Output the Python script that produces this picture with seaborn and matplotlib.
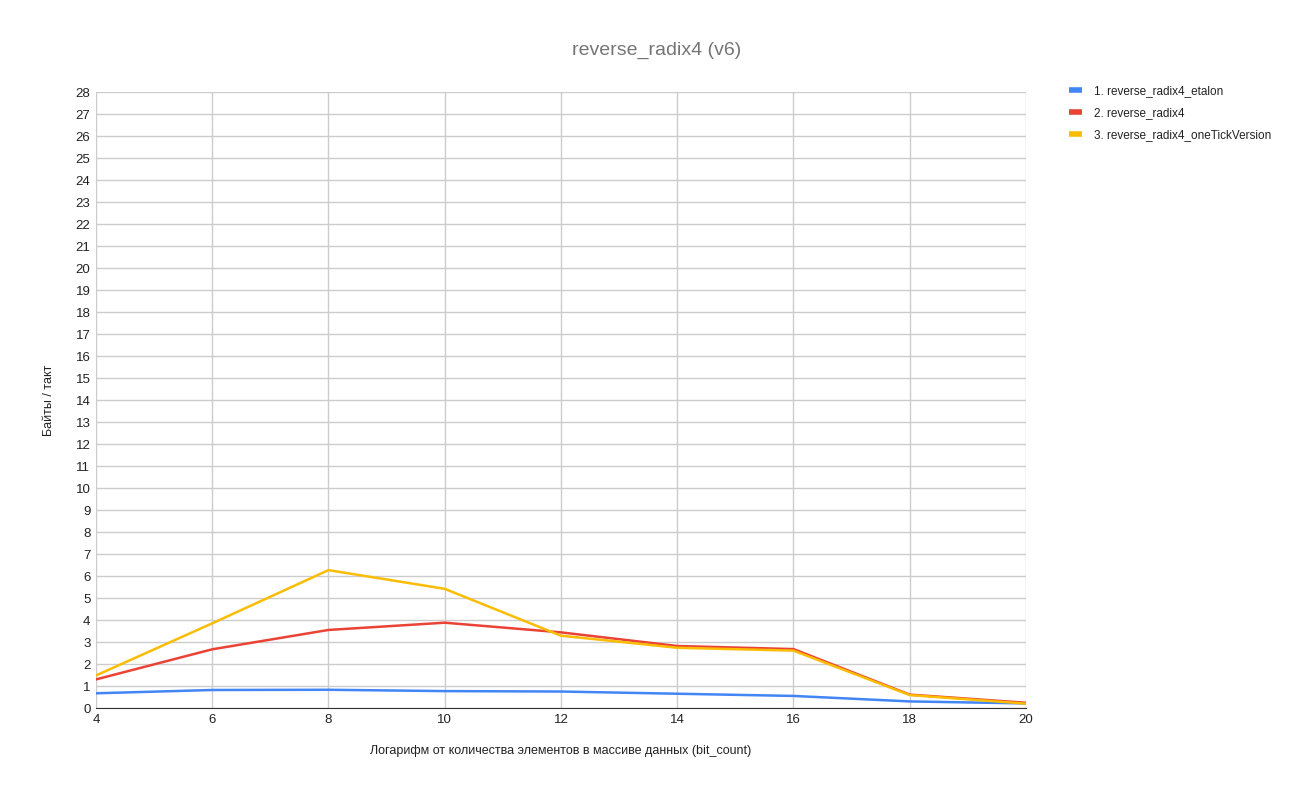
import numpy as np
import pandas as pd
import matplotlib
matplotlib.use("Agg")
import matplotlib.pyplot as plt
import seaborn as sns

bit_count = [4, 6, 8, 10, 12, 14, 16, 18, 20]
etalon = [0.67, 0.82, 0.83, 0.77, 0.75, 0.65, 0.55, 0.30, 0.21]
radix4 = [1.30, 2.67, 3.55, 3.88, 3.44, 2.82, 2.68, 0.61, 0.24]
one_tick = [1.48, 3.85, 6.27, 5.42, 3.29, 2.74, 2.61, 0.59, 0.20]

names = ["1. reverse_radix4_etalon", "2. reverse_radix4", "3. reverse_radix4_oneTickVersion"]
colors = ["#4285F4", "#EA4335", "#FBBC04"]

df = pd.DataFrame({
    "x": bit_count * 3,
    "y": etalon + radix4 + one_tick,
    "series": [names[0]] * 9 + [names[1]] * 9 + [names[2]] * 9,
})

sns.set_style("white")
plt.rcParams["font.family"] = ["Liberation Sans", "DejaVu Sans"]

fig = plt.figure(figsize=(13, 7.95), dpi=100)
ax = fig.add_axes([0.0738, 0.1094, 0.7154, 0.7746])

sns.lineplot(data=df, x="x", y="y", hue="series", palette=colors, linewidth=1.8,
             ax=ax, legend=False)

ax.set_xlim(4, 20)
ax.set_ylim(0, 28)
ax.set_xticks(range(4, 21, 2))
ax.set_yticks(range(0, 29))
ax.grid(True, color="#cccccc", linewidth=1)
for s in ["top", "right", "left"]:
    ax.spines[s].set_visible(False)
ax.spines["bottom"].set_color("#333333")
ax.tick_params(length=0, labelsize=9.5, colors="#222222", pad=4)

ax.set_xlabel("Логарифм от количества элементов в массиве данных (bit_count)",
              fontsize=9, color="#222222", labelpad=14)
ax.set_ylabel("Байты / такт", fontsize=9, color="#222222", labelpad=15)
fig.suptitle("reverse_radix4 (v6)", x=0.505, y=0.948, fontsize=14, color="#757575")

handles = [plt.Line2D([], [], color=c, linewidth=4, solid_capstyle="butt") for c in colors]
fig.legend(handles, names, loc="upper left", bbox_to_anchor=(0.814, 0.906),
           frameon=False, fontsize=8.5, handlelength=1.1, handletextpad=1.0,
           labelspacing=0.85, labelcolor="#222222")

fig.savefig("out.png", dpi=100)
